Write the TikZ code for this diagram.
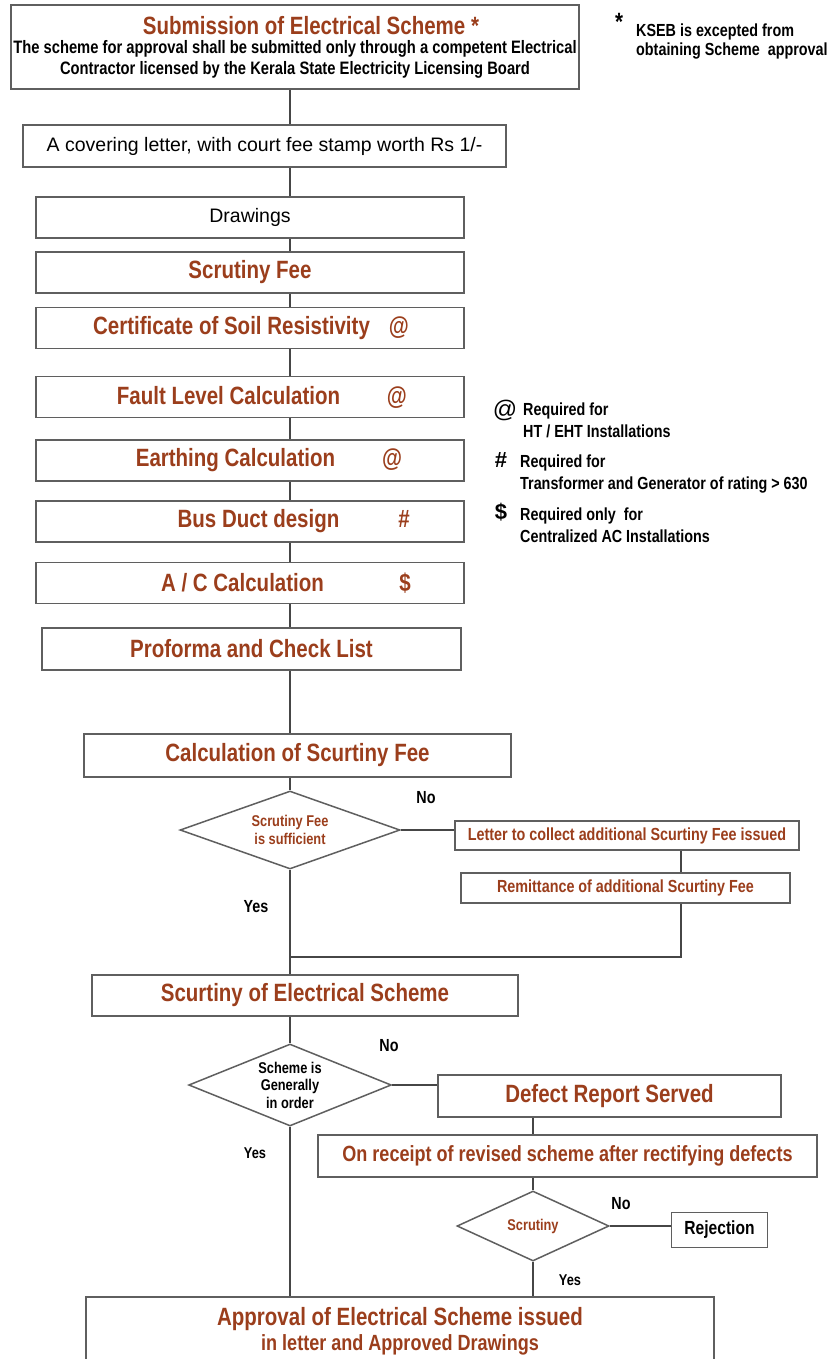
\documentclass[tikz,border=0pt]{standalone}
\usepackage{fontspec}
\setmainfont{Liberation Sans}
\newfontfamily\narrowsf{Liberation Sans}[FakeStretch=0.82]
\usetikzlibrary{shapes.geometric}

\definecolor{rust}{RGB}{155,62,28}
\definecolor{edgegray}{RGB}{95,95,95}
\definecolor{linegray}{RGB}{70,70,70}

\newcommand{\headfont}{\narrowsf\bfseries\fontsize{25}{28}\selectfont}
\newcommand{\subfont}{\narrowsf\bfseries\fontsize{18}{21}\selectfont}
\newcommand{\notefont}{\narrowsf\bfseries\fontsize{17.5}{22}\selectfont}
\newcommand{\markfont}{\narrowsf\bfseries\fontsize{15.6}{17.5}\selectfont}
\newcommand{\bodyfont}{\fontsize{19.5}{22}\selectfont}
% text centre and symbol centre inside a 428pt wide row
\newcommand{\flagged}[4]{\makebox[428pt][l]{\hspace{#1}\makebox[0pt]{#2}\hspace{#3}\makebox[0pt]{#4}}}

\tikzset{
    x=1pt, y=-1pt,
    every node/.style={inner sep=0pt},
    box/.style={draw=edgegray, line width=1.6pt, fill=white, align=center},
    rowbox/.style={box, minimum width=428, minimum height=41, font=\headfont, text=rust},
    cond/.style={diamond, draw=edgegray, line width=1.5pt, fill=white, align=center, aspect=3},
    link/.style={draw=linegray, line width=1.2pt},
}

\begin{document}
\begin{tikzpicture}
    \clip (0,0) rectangle (835,1359);
    \fill[white] (0,0) rectangle (835,1359);
    \coordinate (spine) at (290,0);
    \coordinate (sidespine) at (681,0);
    \coordinate (join) at (681,957);

    \node[box, minimum width=568, minimum height=84, font=\subfont] (submit) at (295,47)
        {{\headfont\color{rust}\hspace*{32pt}Submission of Electrical Scheme *}\\[-2pt]
         The scheme for approval shall be submitted only through a competent Electrical\\
         Contractor licensed by the Kerala State Electricity Licensing Board};
    \node[box, minimum width=483, minimum height=42, font=\bodyfont] (letter) at (264.5,146) {A covering letter, with court fee stamp worth Rs 1/-};
    \node[box, minimum width=428, minimum height=41, font=\bodyfont] (drawings) at (250,217.5) {Drawings};
    \node[rowbox] (fee) at (250,272.5) {Scrutiny Fee};
    \node[rowbox] (soil) at (250,328) {\flagged{195.5pt}{Certificate of Soil Resistivity}{167.5pt}{@}};
    \node[rowbox] (fault) at (250,397) {\flagged{192.5pt}{Fault Level Calculation}{168.5pt}{@}};
    \node[rowbox] (earth) at (250,460.5) {\flagged{199.5pt}{Earthing Calculation}{156.5pt}{@}};
    \node[rowbox] (busduct) at (250,521.5) {\flagged{222.5pt}{Bus Duct design}{145.5pt}{\#}};
    \node[rowbox] (aircon) at (250,583) {\flagged{206.5pt}{A / C Calculation}{162.5pt}{\$}};
    \node[rowbox, minimum width=419, minimum height=42] (proforma) at (251.5,649) {Proforma and Check List};

    \node[rowbox, minimum width=427, minimum height=43] (feecalc) at (297.5,755.5) {Calculation of Scurtiny Fee};
    \node[cond, minimum width=220, minimum height=78, font=\markfont, text=rust] (feeok) at (290,830) {Scrutiny Fee\\is sufficient};
    \node[box, minimum width=344, minimum height=29, font=\notefont, text=rust] (collect) at (627,835.5) {Letter to collect additional Scurtiny Fee issued};
    \node[box, minimum width=329, minimum height=30, font=\notefont, text=rust] (remit) at (625.5,888) {Remittance of additional Scurtiny Fee};

    \node[rowbox, minimum width=426] (scheme) at (305,995.5) {Scurtiny of Electrical Scheme};
    \node[cond, minimum width=196, minimum height=82, font=\markfont] (inorder) at (290,1085) {Scheme is\\Generally\\in order};
    \node[rowbox, minimum width=343, minimum height=42] (defect) at (609.5,1096) {Defect Report Served};
    \node[box, minimum width=499, minimum height=42, font=\narrowsf\bfseries\fontsize{22}{24}\selectfont, text=rust] (revised) at (567.5,1156) {On receipt of revised scheme after rectifying defects};
    \node[cond, minimum width=152, minimum height=70, font=\markfont, text=rust] (recheck) at (533,1226) {Scrutiny};
    \node[box, minimum width=96, minimum height=35, font=\narrowsf\bfseries\fontsize{19}{22}\selectfont] (reject) at (719.5,1230) {Rejection};
    \node[box, anchor=north, minimum width=628, minimum height=68, font=\narrowsf\bfseries\fontsize{22}{25}\selectfont, text=rust] (approved) at (400,1296)
        {{\headfont Approval of Electrical Scheme issued}\\in letter and Approved Drawings};

    % branch labels
    \node[font=\notefont] (no1) at (426,798) {No};
    \node[font=\notefont] (yes1) at (256,907) {Yes};
    \node[font=\notefont] (no2) at (389,1046) {No};
    \node[font=\markfont] (yes2) at (255,1153) {Yes};
    \node[font=\notefont] (no3) at (621,1204) {No};
    \node[font=\markfont] (yes3) at (570,1280) {Yes};

    % side notes
    \node[font=\headfont] (star) at (619,22) {*};
    \node[font=\notefont, anchor=west, align=left] (kseb) at (636,42) {KSEB is excepted from\\[-3pt]obtaining Scheme \ approval};
    \node[font=\fontsize{24}{24}\selectfont] (atmark) at (505,410) {@};
    \node[font=\notefont, anchor=west, align=left] (atnote) at (523,420.5) {Required for\\HT / EHT Installations};
    \node[font=\bfseries\fontsize{22}{22}\selectfont] (hashmark) at (501,460) {\#};
    \node[font=\notefont, anchor=west, align=left] (hashnote) at (520,474) {Required for\\Transformer and Generator of rating > 630};
    \node[font=\bfseries\fontsize{22}{22}\selectfont] (dollarmark) at (501,512) {\$};
    \node[font=\notefont, anchor=west, align=left] (dollarnote) at (520,525.5) {Required only \ for\\Centralized AC Installations};

    % main trunk
    \draw[link] (submit.south -| spine) -- (letter.north -| spine);
    \draw[link] (letter.south -| spine) -- (drawings.north -| spine);
    \draw[link] (drawings.south -| spine) -- (fee.north -| spine);
    \draw[link] (fee.south -| spine) -- (soil.north -| spine);
    \draw[link] (soil.south -| spine) -- (fault.north -| spine);
    \draw[link] (fault.south -| spine) -- (earth.north -| spine);
    \draw[link] (earth.south -| spine) -- (busduct.north -| spine);
    \draw[link] (busduct.south -| spine) -- (aircon.north -| spine);
    \draw[link] (aircon.south -| spine) -- (proforma.north -| spine);
    \draw[link] (proforma.south -| spine) -- (feecalc.north -| spine);
    \draw[link] (feecalc.south -| spine) -- (feeok.north);

    \draw[link] (feeok.east) -- (feeok.east -| collect.west);
    \draw[link] (collect.south -| sidespine) -- (remit.north -| sidespine);
    \draw[link] (remit.south -| sidespine) -- (join) -- (join -| spine);
    \draw[link] (feeok.south) -- (scheme.north -| spine);

    \draw[link] (scheme.south -| spine) -- (inorder.north);
    \draw[link] (inorder.east) -- (inorder.east -| defect.west);
    \draw[link] (defect.south -| recheck) -- (revised.north -| recheck);
    \draw[link] (revised.south -| recheck) -- (recheck.north);
    \draw[link] (recheck.east) -- (recheck.east -| reject.west);
    \draw[link] (recheck.south) -- (recheck.south |- approved.north);
    \draw[link] (inorder.south) -- (inorder.south |- approved.north);
\end{tikzpicture}
\end{document}
